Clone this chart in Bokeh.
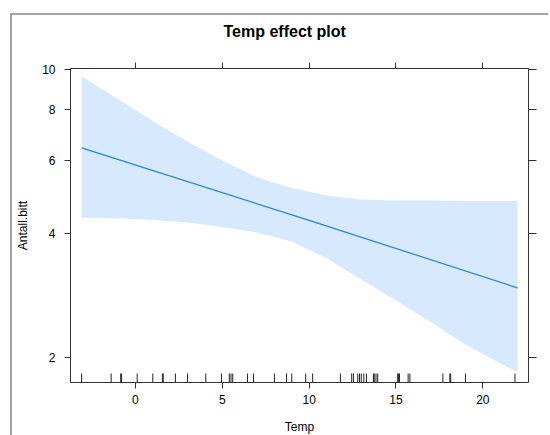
import math
from bokeh.plotting import figure
from bokeh.models import Range1d, FixedTicker, PrintfTickFormatter, LinearAxis, LogAxis
from bokeh.embed import file_html
from bokeh.resources import INLINE

# ---- data ----
temp_grid = [-3.1, -1.0, 1.0, 3.0, 5.0, 7.0, 9.0, 11.0, 13.0, 15.0, 17.0, 19.0, 22.0]
upper = [9.60, 8.45, 7.48, 6.67, 6.00, 5.47, 5.15, 4.94, 4.83, 4.80, 4.80, 4.79, 4.79]
lower = [4.36, 4.35, 4.31, 4.25, 4.14, 4.02, 3.82, 3.48, 3.09, 2.75, 2.44, 2.15, 1.84]
fit_temp = [-3.1, 10.0, 22.0]
fit = [6.44, 4.30, 2.95]
rug = [-3.1, -1.4, -0.85, -0.8, 0.1, 1.0, 1.55, 1.6, 2.3, 3.0, 4.05, 4.95,
       5.4, 5.5, 5.6, 6.45, 6.8, 8.0, 8.7, 9.0, 9.8, 10.2, 11.8, 12.45, 12.55,
       12.8, 12.9, 13.0, 13.15, 13.3, 13.7, 13.75, 13.85, 13.95, 15.1, 15.15,
       15.2, 15.7, 15.8, 17.7, 18.1, 18.15, 19.0, 21.85]
x_ticks = [0, 5, 10, 15, 20]
y_ticks = [2, 4, 6, 8, 10]
x_lo, x_hi = -3.74, 22.63
y_lo, y_hi = 1.74, 10.03

FONT = "Liberation Sans"
DARK = "#333333"

p = figure(frame_width=458, frame_height=314, output_backend="svg",
           toolbar_location=None, y_axis_type="log",
           x_range=Range1d(x_lo, x_hi), y_range=Range1d(y_lo, y_hi),
           min_border_left=58, min_border_right=20, min_border_top=53,
           min_border_bottom=51, title="Temp effect plot")
p.margin = (13, 0, 0, 10)
p.styles = {"border-left": "2px solid #a3a3a3", "border-top": "2px solid #a3a3a3"}

p.title.align = "left"
p.title.offset = 153
p.title.standoff = 10
p.title.text_font = FONT
p.title.text_font_size = "16px"
p.title.text_font_style = "bold"
p.title.text_color = "#000000"

p.grid.visible = False
p.outline_line_color = DARK
p.outline_line_width = 1
p.background_fill_color = "white"
p.border_fill_color = "white"

p.varea(x=temp_grid, y1=lower, y2=upper, fill_color="#D7E9FD", fill_alpha=1)
p.line(x=fit_temp, y=fit, line_color="#1A86F7", line_width=1.2)
p.scatter(x=rug, y=[y_lo] * len(rug), marker="dash", size=18, angle=math.pi / 2,
          line_color="#222222", line_width=1)

def style_axis(ax, labels=True):
    ax.axis_line_color = None
    ax.major_tick_line_color = DARK
    ax.major_tick_out = 6
    ax.major_tick_in = 0
    ax.minor_tick_line_color = None
    ax.major_label_text_font = FONT
    ax.major_label_text_font_size = "12px" if labels else "1px"
    ax.major_label_text_color = "#000000" if labels else None
    ax.axis_label_text_font = FONT
    ax.axis_label_text_font_size = "12px"
    ax.axis_label_text_font_style = "normal"
    ax.axis_label_text_color = "#000000"

xa = p.xaxis[0]
xa.ticker = FixedTicker(ticks=x_ticks)
xa.axis_label = "Temp"
style_axis(xa)
xa.major_label_standoff = 6
xa.axis_label_standoff = 13

ya = p.yaxis[0]
ya.ticker = FixedTicker(ticks=y_ticks)
ya.formatter = PrintfTickFormatter(format="%d")
ya.axis_label = "Antall.bitt"
style_axis(ya)
ya.major_label_standoff = 9
ya.axis_label_standoff = 9

top = LinearAxis(ticker=FixedTicker(ticks=x_ticks))
style_axis(top, labels=False)
top.major_label_standoff = 0
p.add_layout(top, "above")

# invisible spacer between the top ticks and the title
spacer = LinearAxis(ticker=FixedTicker(ticks=x_ticks))
style_axis(spacer, labels=False)
spacer.major_label_standoff = 0
spacer.major_tick_out = 18
spacer.major_tick_line_color = None
p.add_layout(spacer, "above")

right = LogAxis(ticker=FixedTicker(ticks=y_ticks))
style_axis(right, labels=False)
right.major_label_standoff = 0
right.major_tick_out = 8
p.add_layout(right, "right")

open("out.html", "w").write(file_html(p, INLINE))
